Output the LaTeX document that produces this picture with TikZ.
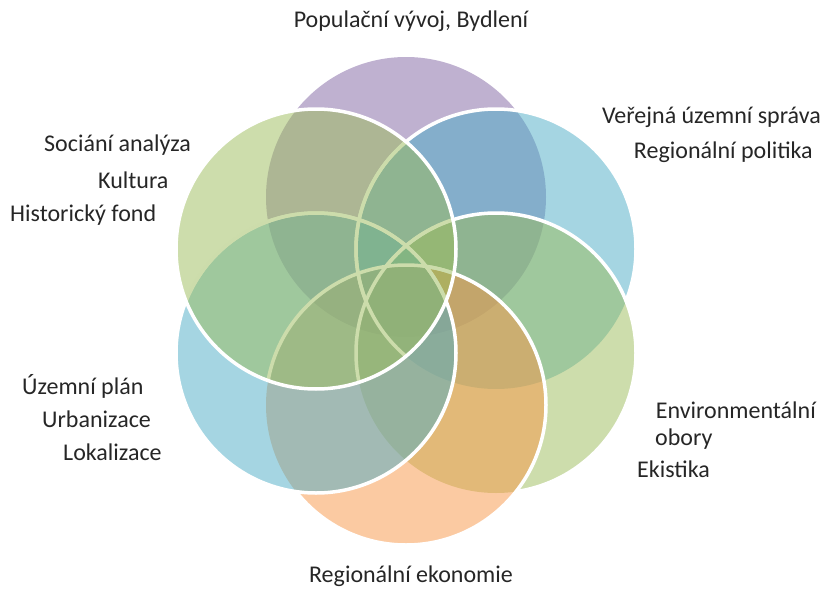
\documentclass[tikz,border=0pt]{standalone}
\usepackage{fontspec}
\setmainfont{Carlito}

\definecolor{popfill}{HTML}{8064A2}
\definecolor{sprfill}{HTML}{4BACC6}
\definecolor{envfill}{HTML}{9BBB59}
\definecolor{ekofill}{HTML}{F79646}
\definecolor{uplfill}{HTML}{4BACC6}
\definecolor{socfill}{HTML}{9BBB59}

\begin{document}
\begin{tikzpicture}[
            x=1pt, y=-1pt,
            petal/.style={fill opacity=0.5},
            rim/.style={draw=white, line width=3.5pt},
            caption/.style={font=\fontsize{24}{29}\selectfont, inner sep=0pt, text=black!85},
            ]

            \useasboundingbox (0,0) rectangle (823,589);

            % centres of the petals
            \coordinate (pop) at (406,197);
            \coordinate (spr) at (496,249);
            \coordinate (env) at (496,353);
            \coordinate (eko) at (406,405);
            \coordinate (upl) at (316,353);
            \coordinate (soc) at (316,249);

            % petals
            \fill[petal, popfill] (pop) circle (140);
            \fill[petal, sprfill] (spr) circle (140);
            \fill[petal, envfill] (env) circle (140);
            \fill[petal, ekofill] (eko) circle (140);
            \fill[petal, uplfill] (upl) circle (140);

            % rims seen through the last petal
            \begin{scope}
                \clip (soc) circle (140);
                \foreach \cur in {spr, env, eko, upl}
                    \draw[rim] (\cur) circle (140);
            \end{scope}

            % rims, hidden under the next petal
            \foreach \cur/\nxt in {spr/env, env/eko, eko/upl}
            {
                \begin{scope}
                    \clip (0,0) -- (0,589) -- (823,589) -- (823,0) -- cycle
                          (\nxt) circle (140);
                    \draw[rim] (\cur) circle (140);
                \end{scope}
            }
            \draw[rim] (upl) circle (140);

            % last petal
            \fill[petal, socfill] (soc) circle (140);
            \draw[rim] (soc) circle (140);

            % labels
            \node[caption] (poplab) at (411,21) {Populační vývoj, Bydlení};
            \node[caption, anchor=east] (spr1) at (821,117) {Veřejná územní správa};
            \node[caption, anchor=east] (spr2) at (813,152) {Regionální politika};
            \node[caption, anchor=west] (soc1) at (44,145) {Sociání analýza};
            \node[caption, anchor=west] (soc2) at (98,180) {Kultura};
            \node[caption, anchor=west] (soc3) at (10,215) {Historický fond};
            \node[caption, anchor=west] (upl1) at (22,386) {Územní plán};
            \node[caption, anchor=west] (upl2) at (42,419) {Urbanizace};
            \node[caption, anchor=west] (upl3) at (63,452) {Lokalizace};
            \node[caption, anchor=east] (env1) at (816,410) {Environmentální};
            \node[caption, anchor=west] (env2) at (655,439) {obory};
            \node[caption, anchor=west] (env3) at (637,469) {Ekistika};
            \node[caption] (ekolab) at (411,576) {Regionální ekonomie};

        \end{tikzpicture}
\end{document}
